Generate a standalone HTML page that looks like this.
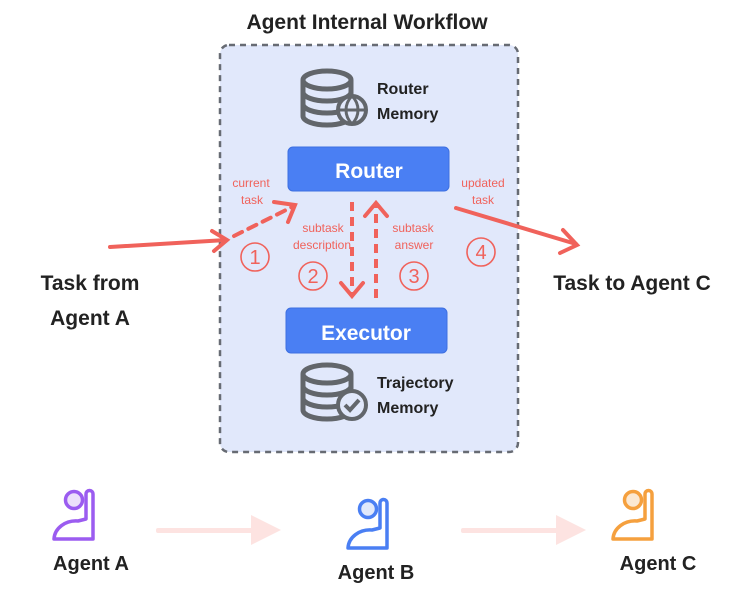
<!DOCTYPE html>
<html><head><meta charset="utf-8"><style>
body{margin:0;background:#fff;}
svg{display:block;font-family:"Liberation Sans","DejaVu Sans",sans-serif;}
</style></head><body>
<svg width="747" height="592" viewBox="0 0 747 592" xmlns="http://www.w3.org/2000/svg">
<defs>
<g id="db">
  <ellipse cx="0" cy="0" rx="24" ry="9" fill="none" stroke="#62666b" stroke-width="5"/>
  <path d="M-24 0 V36 A24 9 0 0 0 24 36 V0" fill="none" stroke="#62666b" stroke-width="5"/>
  <path d="M-24 12 A24 9 0 0 0 24 12 M-24 24 A24 9 0 0 0 24 24" fill="none" stroke="#62666b" stroke-width="5"/>
</g>
</defs>
<text x="367" y="29" text-anchor="middle" font-size="21" font-weight="bold" fill="#222">Agent Internal Workflow</text>
<rect x="220" y="45" width="298" height="407" rx="9" fill="#e1e8fb" stroke="#676b73" stroke-width="2.5" stroke-dasharray="6,5"/>
<use href="#db" x="327" y="80"/>
<circle cx="352" cy="110" r="14" fill="#e1e8fb" stroke="#62666b" stroke-width="4"/>
<path d="M338 110 H366 M352 96 C344 104 344 116 352 124 C360 116 360 104 352 96" fill="none" stroke="#62666b" stroke-width="3"/>
<text x="377" y="94" font-size="16" font-weight="bold" fill="#222">Router</text>
<text x="377" y="119" font-size="16" font-weight="bold" fill="#222">Memory</text>
<rect x="288" y="147" width="161" height="44" rx="5" fill="#4a7ff3" stroke="#3d6fe0"/>
<text x="369" y="178" text-anchor="middle" font-size="21" font-weight="bold" fill="#fff">Router</text>
<rect x="286" y="308" width="161" height="45" rx="5" fill="#4a7ff3" stroke="#3d6fe0"/>
<text x="366" y="340" text-anchor="middle" font-size="21" font-weight="bold" fill="#fff">Executor</text>
<use href="#db" x="327" y="374"/>
<circle cx="352" cy="405" r="14" fill="#e1e8fb" stroke="#62666b" stroke-width="4"/>
<path d="M345 405 L350 410 L359 400" fill="none" stroke="#62666b" stroke-width="4"/>
<text x="377" y="388" font-size="16" font-weight="bold" fill="#222">Trajectory</text>
<text x="377" y="413" font-size="16" font-weight="bold" fill="#222">Memory</text>
<g stroke="#f0625b" stroke-width="4" fill="none" stroke-linecap="round">
  <path d="M110 247 L226 240"/>
  <path d="M212 231 L227 240 L214 251"/>
  <path d="M234 236 L292 207" stroke-dasharray="9,7"/>
  <path d="M274 202 L295 205 L288 222"/>
  <path d="M352 202 V294" stroke-dasharray="9,6" stroke-linecap="butt"/>
  <path d="M341 283 L352 296 L363 283"/>
  <path d="M376 298 V206" stroke-dasharray="9,6" stroke-linecap="butt"/>
  <path d="M365 216 L376 203 L387 216"/>
  <path d="M456 208 L576 244"/>
  <path d="M563 230 L577 245 L560 253"/>
</g>
<g font-size="12" fill="#f0625b" text-anchor="middle">
  <text x="251" y="187">current</text><text x="252" y="204">task</text>
  <text x="323" y="232">subtask</text><text x="322" y="249">description</text>
  <text x="413" y="232">subtask</text><text x="414" y="249">answer</text>
  <text x="483" y="187">updated</text><text x="483" y="204">task</text>
</g>
<g stroke="#f0625b" stroke-width="1.6" fill="none">
  <circle cx="255" cy="257" r="14"/><circle cx="313" cy="276" r="14"/><circle cx="414" cy="276" r="14"/><circle cx="481" cy="252" r="14"/>
</g>
<g font-size="20" fill="#f0625b" text-anchor="middle">
  <text x="255" y="264">1</text><text x="313" y="283">2</text><text x="414" y="283">3</text><text x="481" y="259">4</text>
</g>
<text x="90" y="290" text-anchor="middle" font-size="21" font-weight="bold" fill="#222">Task from</text>
<text x="90" y="325" text-anchor="middle" font-size="21" font-weight="bold" fill="#222">Agent A</text>
<text x="632" y="290" text-anchor="middle" font-size="21" font-weight="bold" fill="#222">Task to Agent C</text>
<g stroke-width="3.5" fill="none" stroke-linejoin="round">
  <g stroke="#9b5cf0"><circle cx="74" cy="500" r="8.5" fill="#ece0fb"/><path d="M86 519 V494 A3.5 3.5 0 0 1 93 494 V539 H54 A22 19 0 0 1 78 521 Z"/></g>
  <g stroke="#4a7ff3"><circle cx="368" cy="509" r="8.5" fill="#e0e8fb"/><path d="M380 528 V503 A3.5 3.5 0 0 1 387 503 V548 H348 A22 19 0 0 1 372 530 Z"/></g>
  <g stroke="#f5a03e"><circle cx="633" cy="500" r="8.5" fill="#fbe8d2"/><path d="M645 519 V494 A3.5 3.5 0 0 1 652 494 V539 H613 A22 19 0 0 1 637 521 Z"/></g>
</g>
<g fill="#fde3e1" stroke="none">
  <rect x="156" y="528" width="100" height="5" rx="2"/><path d="M251 515 L281 530 L251 545 Z"/>
  <rect x="461" y="528" width="100" height="5" rx="2"/><path d="M556 515 L586 530 L556 545 Z"/>
</g>
<g font-size="20" font-weight="bold" fill="#222" text-anchor="middle">
  <text x="91" y="570">Agent A</text><text x="376" y="579">Agent B</text><text x="658" y="570">Agent C</text>
</g>
</svg>
</body></html>
